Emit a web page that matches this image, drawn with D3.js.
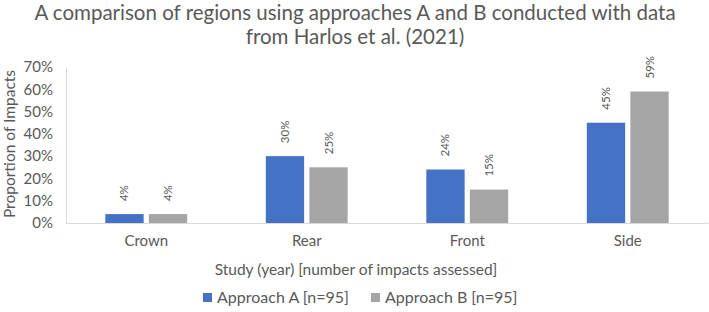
<!DOCTYPE html>
<html>
<head>
<meta charset="utf-8">
<script src="https://cdn.jsdelivr.net/npm/d3@7"></script>
<style>
  body { margin: 0; background: #fff; }
  svg { display: block; font-family: "Lato", "Open Sans", sans-serif; }
</style>
</head>
<body>
<svg id="chart" width="709" height="312"></svg>
<script>
  var categories = ["Crown", "Rear", "Front", "Side"];
  var seriesNames = ["Approach A [n=95]", "Approach B [n=95]"];
  var approachA = [4, 30, 24, 45];
  var approachB = [4, 25, 15, 59];
  var yTicks = [0, 10, 20, 30, 40, 50, 60, 70];
  var colors = ["#4472C4", "#A5A5A5"];

  (function() {
    var svg = d3.select("#chart");
    var textColor = "#595959";

    var mLeft = 66, mRight = 708, mTop = 67, mBottom = 223;

    var x = d3.scaleBand().domain(categories).range([mLeft, mRight]).paddingInner(0.49).paddingOuter(0.245);
    var xInner = d3.scaleBand().domain([0, 1]).range([0, x.bandwidth()]).paddingInner(0.12);
    var y = d3.scaleLinear().domain([0, 70]).range([mBottom, mTop]);

    // title
    var title = svg.append("text")
      .attr("text-anchor", "middle")
      .attr("fill", textColor)
      .style("font-size", "20.5px");
    title.append("tspan").attr("x", 355).attr("y", 20)
      .text("A comparison of regions using approaches A and B conducted with data");
    title.append("tspan").attr("x", 355).attr("y", 44)
      .text("from Harlos et al. (2021)");

    // y axis
    var yAxis = svg.append("g")
      .attr("transform", "translate(" + mLeft + ",0)")
      .call(d3.axisLeft(y).tickValues(yTicks).tickSize(0).tickPadding(13)
        .tickFormat(function(d) { return d + "%"; }));
    yAxis.select(".domain").attr("stroke", "#D9D9D9");
    yAxis.selectAll("text").attr("fill", textColor).style("font-size", "15px")
      .style("font-family", "Lato, sans-serif");

    // x axis
    var xAxis = svg.append("g")
      .attr("transform", "translate(0," + mBottom + ")")
      .call(d3.axisBottom(x).tickSize(0).tickPadding(12));
    xAxis.select(".domain").attr("stroke", "#D9D9D9");
    xAxis.selectAll("text").attr("fill", textColor).style("font-size", "15px")
      .style("font-family", "Lato, sans-serif");

    // bars
    var rows = categories.map(function(c, i) {
      return { cat: c, vals: [approachA[i], approachB[i]] };
    });
    var groups = svg.append("g").selectAll("g").data(rows).join("g")
      .attr("transform", function(d) { return "translate(" + x(d.cat) + ",0)"; });

    groups.selectAll("rect").data(function(d) { return d.vals; }).join("rect")
      .attr("x", function(d, i) { return xInner(i); })
      .attr("y", function(d) { return y(d); })
      .attr("width", xInner.bandwidth())
      .attr("height", function(d) { return mBottom - y(d); })
      .attr("fill", function(d, i) { return colors[i]; });

    groups.selectAll("text.lbl").data(function(d) { return d.vals; }).join("text")
      .attr("class", "lbl")
      .attr("transform", function(d, i) {
        var cx = xInner(i) + xInner.bandwidth() / 2 + 4;
        return "translate(" + cx + "," + (y(d) - 13) + ") rotate(-90)";
      })
      .attr("fill", textColor)
      .style("font-size", "11.5px")
      .text(function(d) { return d + "%"; });

    // axis titles
    svg.append("text")
      .attr("transform", "translate(15,144) rotate(-90)")
      .attr("text-anchor", "middle")
      .attr("fill", textColor)
      .style("font-size", "15.5px")
      .text("Proportion of Impacts");

    svg.append("text")
      .attr("x", 356).attr("y", 275)
      .attr("text-anchor", "middle")
      .attr("fill", textColor)
      .style("font-size", "15.5px")
      .text("Study (year) [number of impacts assessed]");

    // legend
    var legendX = [203, 371];
    var legend = svg.append("g").selectAll("g").data(seriesNames).join("g")
      .attr("transform", function(d, i) { return "translate(" + legendX[i] + ",303)"; });
    legend.append("rect").attr("x", 0).attr("y", -10).attr("width", 9).attr("height", 9)
      .attr("fill", function(d, i) { return colors[i]; });
    legend.append("text").attr("x", 14).attr("y", 0)
      .attr("fill", textColor)
      .style("font-size", "16px")
      .text(function(d) { return d; });
  })();
</script>
</body>
</html>
